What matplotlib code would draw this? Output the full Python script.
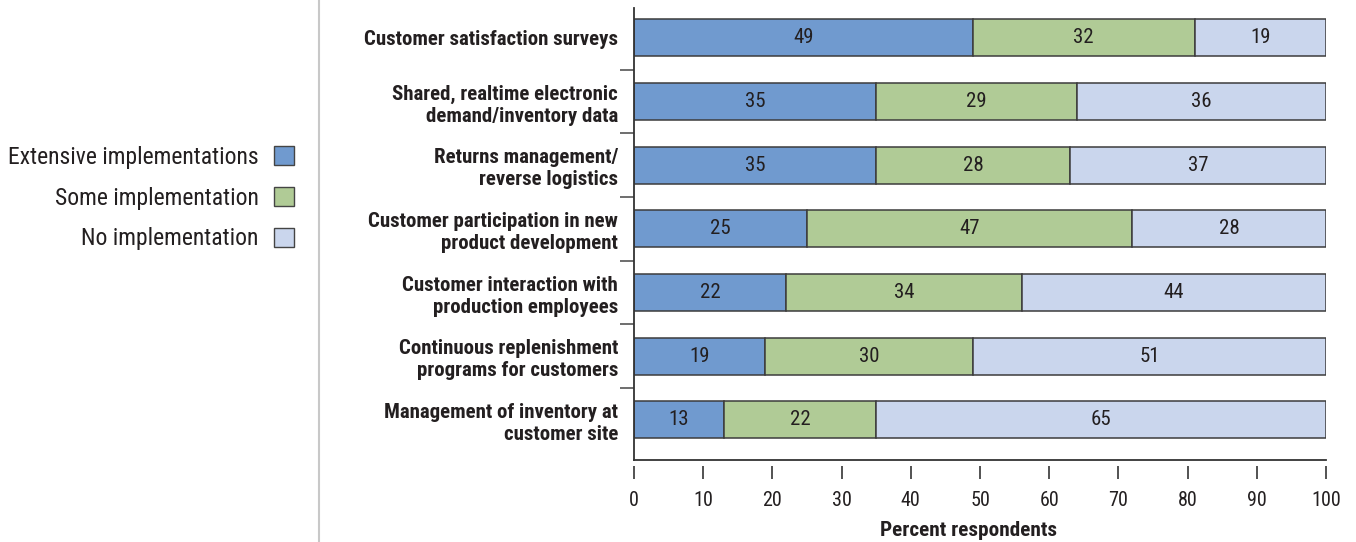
import matplotlib
matplotlib.use("Agg")
import matplotlib.pyplot as plt
from matplotlib.patches import Patch
from matplotlib.lines import Line2D
import numpy as np

plt.rcParams['font.family'] = ['Roboto Condensed', 'DejaVu Sans']

categories = [
    "Customer satisfaction surveys",
    "Shared, realtime electronic\ndemand/inventory data",
    "Returns management/\nreverse logistics",
    "Customer participation in new\nproduct development",
    "Customer interaction with\nproduction employees",
    "Continuous replenishment\nprograms for customers",
    "Management of inventory at\ncustomer site",
]
extensive = [49, 35, 35, 25, 22, 19, 13]
some = [32, 29, 28, 47, 34, 30, 22]
none_ = [19, 36, 37, 28, 44, 51, 65]
series_names = ["Extensive implementations", "Some implementation", "No implementation"]
colors = ["#709ACF", "#B0CB96", "#CAD6ED"]
text_color = "#231F20"
edge_color = "#3C3C3C"

fig = plt.figure(figsize=(13.56, 5.42), dpi=100)
ax = fig.add_axes([634 / 1356, 82 / 542, 692 / 1356, 452 / 542])

y = np.arange(len(categories))
left = np.zeros(len(categories))
for vals, col in zip([extensive, some, none_], colors):
    vals = np.array(vals, dtype=float)
    ax.barh(y, vals, left=left, height=0.58, color=col,
            edgecolor=edge_color, linewidth=1.1)
    for yi, l, v in zip(y, left, vals):
        ax.text(l + v / 2, yi, f"{int(v)}", ha="center", va="center",
                fontsize=15, color=text_color)
    left += vals

ax.set_xlim(0, 100)
ax.set_ylim(6.63, -0.47)
ax.set_xticks(np.arange(0, 101, 10))
ax.set_yticks(y)
ax.set_yticklabels(categories, fontweight="bold", fontsize=15,
                   color=text_color, linespacing=1.2)
ax.set_yticks(np.arange(0.5, 6, 1), minor=True)
ax.tick_params(axis="y", which="major", length=0, pad=11.5)
ax.tick_params(axis="y", which="minor", length=10, width=1.2, color="#555555")
ax.tick_params(axis="x", length=9.5, width=1.3, color="#444444",
               labelsize=14.5, labelcolor=text_color, pad=9)

for s in ["top", "right"]:
    ax.spines[s].set_visible(False)
ax.spines["left"].set_color("#333333")
ax.spines["left"].set_linewidth(1.3)
ax.spines["bottom"].set_position(("outward", 4))
ax.spines["bottom"].set_visible(False)
ax.axhline(6.63, color="#333333", linewidth=1.3, clip_on=False)

ax.set_xlabel("Percent respondents", fontweight="bold", fontsize=15.3,
              color=text_color)
ax.xaxis.set_label_coords(0.483, -0.135)

handles = [Patch(facecolor=c, edgecolor="#444444", linewidth=1.0) for c in colors]
fig.legend(handles, series_names, loc="center right",
           bbox_to_anchor=(294 / 1356, 1 - 198 / 542), frameon=False,
           markerfirst=False, fontsize=17, handlelength=0.85,
           handleheight=0.85, handletextpad=0.64, labelspacing=0.76,
           labelcolor=text_color, borderpad=0, borderaxespad=0)

fig.add_artist(Line2D([319 / 1356, 319 / 1356], [0, 1], color="#C8C8C8",
                      linewidth=1.5, transform=fig.transFigure))

fig.savefig("out.png", dpi=100)
